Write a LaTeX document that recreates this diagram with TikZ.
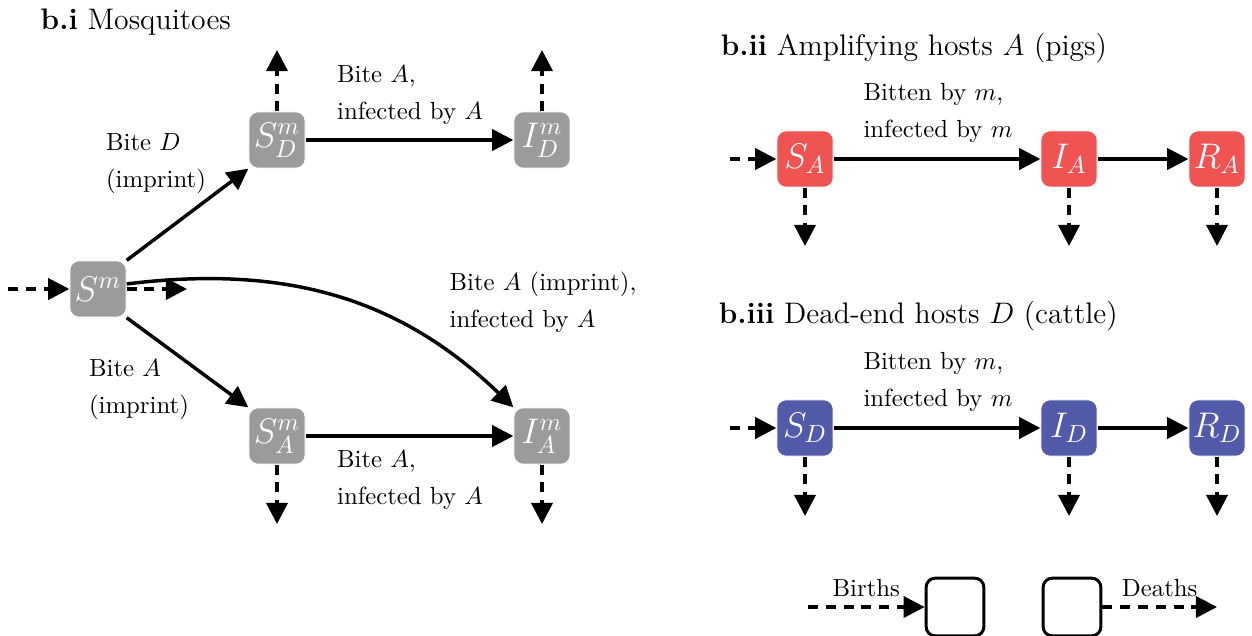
\documentclass[tikz,border=0pt]{standalone}
\usepackage{amsmath,amssymb}
\usepackage{xcolor}
\usepackage{tikz}
\usetikzlibrary{arrows.meta}

\definecolor{mosqgray}{RGB}{155,155,155}
\definecolor{pigred}{RGB}{239,83,82}
\definecolor{cowblue}{RGB}{82,90,170}

\begin{document}
\begin{tikzpicture}[x=1.42cm, y=1.42cm,
    >={Triangle[length=3mm, width=3mm]},
    comp/.style={draw=white, rectangle, rounded corners=1.3mm, minimum width=0.8cm, minimum height=0.8cm, inner sep=0pt, text=white, font=\Large},
    lbl/.style={align=left, font=\linespread{1.25}\selectfont},
    flow/.style={->, line width=1.4pt},
    birthdeath/.style={->, line width=1.4pt, dash pattern=on 4pt off 3.2pt}]
                \useasboundingbox (0, 0) rectangle (12.52, -6.35);
                
                % Titles
                \node[anchor=west, font=\large] (tmos) at (0.32, -0.22) {\textbf{b.i} Mosquitoes};
                \node[anchor=west, font=\large] (tamp) at (7.12, -0.48) {\textbf{b.ii} Amplifying hosts $A$ (pigs)};
                \node[anchor=west, font=\large] (tdead) at (7.10, -3.16) {\textbf{b.iii} Dead-end hosts $D$ (cattle)};
                
                % Mosquito compartments
                \node[comp, fill=mosqgray] (sm) at (0.98, -2.89) {$S^m$};
                \node[comp, fill=mosqgray] (sdm) at (2.77, -1.40) {$S^m_D$};
                \node[comp, fill=mosqgray] (idm) at (5.42, -1.40) {$I^m_D$};
                \node[comp, fill=mosqgray] (sam) at (2.77, -4.36) {$S^m_A$};
                \node[comp, fill=mosqgray] (iam) at (5.42, -4.36) {$I^m_A$};
                
                % Pig compartments
                \node[comp, fill=pigred] (sa) at (8.05, -1.59) {$S_A$};
                \node[comp, fill=pigred] (ia) at (10.69, -1.59) {$I_A$};
                \node[comp, fill=pigred] (ra) at (12.17, -1.59) {$R_A$};
                
                % Cattle compartments
                \node[comp, fill=cowblue] (sd) at (8.05, -4.28) {$S_D$};
                \node[comp, fill=cowblue] (id) at (10.69, -4.28) {$I_D$};
                \node[comp, fill=cowblue] (rd) at (12.17, -4.28) {$R_D$};
                
                % Legend boxes
                \node[comp, draw=black, line width=1.2pt, fill=white, minimum width=0.82cm, minimum height=0.82cm] (lbirth) at (9.55, -6.07) {};
                \node[comp, draw=black, line width=1.2pt, fill=white, minimum width=0.82cm, minimum height=0.82cm] (ldeath) at (10.72, -6.07) {};
                
                % Labels
                \node[lbl] (lbd) at (1.56, -1.64) {Bite $D$\\(imprint)};
                \node[lbl] (lba) at (1.39, -3.90) {Bite $A$\\(imprint)};
                \node[lbl] (lbai) at (5.43, -3.02) {Bite $A$ (imprint),\\infected by $A$};
                \node[lbl] (ltop) at (4.10, -0.95) {Bite $A$,\\infected by $A$};
                \node[lbl] (lbot) at (4.10, -4.80) {Bite $A$,\\infected by $A$};
                \node[lbl] (lpig) at (9.38, -1.13) {Bitten by $m$,\\infected by $m$};
                \node[lbl] (lcow) at (9.38, -3.82) {Bitten by $m$,\\infected by $m$};
                
                % Free ends of births and deaths
                \coordinate (smin) at (0.08, -2.89);
                \coordinate (smout) at (1.87, -2.89);
                \coordinate (sdmup) at (2.77, -0.50);
                \coordinate (idmup) at (5.42, -0.50);
                \coordinate (samdn) at (2.77, -5.24);
                \coordinate (iamdn) at (5.42, -5.24);
                \coordinate (sain) at (7.30, -1.59);
                \coordinate (sadn) at (8.05, -2.46);
                \coordinate (iadn) at (10.69, -2.46);
                \coordinate (radn) at (12.17, -2.46);
                \coordinate (sdin) at (7.30, -4.28);
                \coordinate (sddn) at (8.05, -5.16);
                \coordinate (iddn) at (10.69, -5.16);
                \coordinate (rddn) at (12.17, -5.16);
                \coordinate (bstart) at (8.08, -6.07);
                \coordinate (dend) at (12.17, -6.07);
                
                % Mosquito transitions
                \draw[flow] (sm.north east) -- (sdm.south west);
                \draw[flow] (sm.south east) -- (sam.north west);
                \draw[flow] (sm.10) to[out=7, in=136] (iam.north west);
                \draw[flow] (sdm) -- (idm);
                \draw[flow] (sam) -- (iam);
                
                % Host transitions
                \draw[flow] (sa) -- (ia);
                \draw[flow] (ia) -- (ra);
                \draw[flow] (sd) -- (id);
                \draw[flow] (id) -- (rd);
                
                % Births and deaths
                \draw[birthdeath] (smin) -- (sm);
                \draw[birthdeath] (sm) -- (smout);
                \draw[birthdeath] (sdm) -- (sdmup);
                \draw[birthdeath] (idm) -- (idmup);
                \draw[birthdeath] (sam) -- (samdn);
                \draw[birthdeath] (iam) -- (iamdn);
                \draw[birthdeath] (sain) -- (sa);
                \draw[birthdeath] (sa) -- (sadn);
                \draw[birthdeath] (ia) -- (iadn);
                \draw[birthdeath] (ra) -- (radn);
                \draw[birthdeath] (sdin) -- (sd);
                \draw[birthdeath] (sd) -- (sddn);
                \draw[birthdeath] (id) -- (iddn);
                \draw[birthdeath] (rd) -- (rddn);
                
                % Legend
                \draw[birthdeath] (bstart) -- node[above] (lbirths) {Births} (lbirth);
                \draw[birthdeath] (ldeath) -- node[above] (ldeaths) {Deaths} (dend);
            \end{tikzpicture}
\end{document}
